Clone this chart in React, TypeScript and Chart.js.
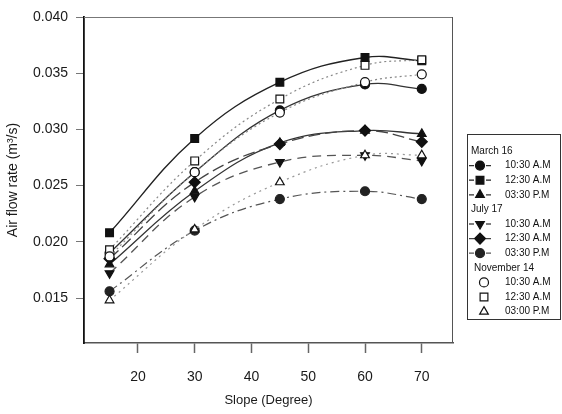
import React, { useEffect, useRef } from 'react';
import { Chart, registerables } from 'chart.js';
import { drawPoint } from 'chart.js/helpers';

Chart.register(...registerables);

// ---- Data ----
const slopes = [15, 30, 45, 60, 70];
const mar16_1030 = [0.0190, 0.0262, 0.0317, 0.0340, 0.0336];
const mar16_1230 = [0.0208, 0.0292, 0.0342, 0.0364, 0.0361];
const mar16_0330 = [0.0180, 0.0245, 0.0288, 0.0299, 0.0296];
const jul17_1030 = [0.0172, 0.0240, 0.0271, 0.0277, 0.0272];
const jul17_1230 = [0.0185, 0.0253, 0.0287, 0.0299, 0.0289];
const jul17_0330 = [0.0156, 0.0210, 0.0238, 0.0245, 0.0238];
const nov14_1030 = [0.0187, 0.0262, 0.0315, 0.0342, 0.0349];
const nov14_1230 = [0.0193, 0.0272, 0.0327, 0.0357, 0.0362];
const nov14_0300 = [0.0148, 0.0211, 0.0253, 0.0277, 0.0277];

const xTicks = [20, 30, 40, 50, 60, 70];
const yTicks = [0.015, 0.020, 0.025, 0.030, 0.035, 0.040];

const groupHeaders = ['March 16', 'July 17', 'November 14'];
const timeLabels = [
  ['10:30 A.M', '12:30 A.M', '03:30 P.M'],
  ['10:30 A.M', '12:30 A.M', '03:30 P.M'],
  ['10:30 A.M', '12:30 A.M', '03:00 P.M'],
];

const FONT = "'Liberation Sans', Arial, sans-serif";

type S = {
  data: number[];
  group: number;
  idx: number;
  style: string;
  rotation?: number;
  fill: string;
  stroke: string;
  lineColor: string;
  dash: number[];
  lw: number;
  radius: number;
  order: number;
};

const series: S[] = [
  { data: mar16_1030, group: 0, idx: 0, style: 'circle', fill: '#111', stroke: '#111', lineColor: '#333', dash: [], lw: 1.3, radius: 4.5, order: 2 },
  { data: mar16_1230, group: 0, idx: 1, style: 'rect', fill: '#111', stroke: '#111', lineColor: '#222', dash: [], lw: 1.4, radius: 5.5, order: 2 },
  { data: mar16_0330, group: 0, idx: 2, style: 'triangle', fill: '#111', stroke: '#111', lineColor: '#333', dash: [], lw: 1.3, radius: 5, order: 2 },
  { data: jul17_1030, group: 1, idx: 0, style: 'triangle', rotation: 180, fill: '#111', stroke: '#111', lineColor: '#555', dash: [9, 6], lw: 1.3, radius: 5, order: 1 },
  { data: jul17_1230, group: 1, idx: 1, style: 'rectRot', fill: '#111', stroke: '#111', lineColor: '#444', dash: [12, 5], lw: 1.3, radius: 5.5, order: 1 },
  { data: jul17_0330, group: 1, idx: 2, style: 'circle', fill: '#222', stroke: '#222', lineColor: '#555', dash: [9, 4, 2, 4], lw: 1.2, radius: 4.5, order: 1 },
  { data: nov14_1030, group: 2, idx: 0, style: 'circle', fill: '#fff', stroke: '#111', lineColor: '#888', dash: [2, 3], lw: 1.2, radius: 4.5, order: 0 },
  { data: nov14_1230, group: 2, idx: 1, style: 'rect', fill: '#fff', stroke: '#111', lineColor: '#888', dash: [2, 3], lw: 1.2, radius: 5.5, order: 0 },
  { data: nov14_0300, group: 2, idx: 2, style: 'triangle', fill: '#fff', stroke: '#111', lineColor: '#999', dash: [2, 4], lw: 1.2, radius: 5, order: 0 },
];

const framePlugin = {
  id: 'frame',
  afterDraw(chart: any) {
    const { ctx, chartArea: a } = chart;
    ctx.save();
    ctx.strokeStyle = '#777';
    ctx.lineWidth = 1;
    ctx.beginPath();
    ctx.moveTo(a.left, a.top + 0.5);
    ctx.lineTo(a.right, a.top + 0.5);
    ctx.stroke();
    ctx.strokeStyle = '#555';
    ctx.beginPath();
    ctx.moveTo(a.right - 0.5, a.top);
    ctx.lineTo(a.right - 0.5, a.bottom);
    ctx.stroke();
    ctx.restore();
  },
};

const legendPlugin = {
  id: 'customLegend',
  afterDraw(chart: any) {
    const ctx = chart.ctx;
    const bx = 467, by = 134, bw = 93, bh = 185;
    ctx.save();
    ctx.strokeStyle = '#333';
    ctx.lineWidth = 1;
    ctx.strokeRect(bx + 0.5, by + 0.5, bw, bh);
    ctx.font = `10px ${FONT}`;
    ctx.fillStyle = '#111';
    ctx.textBaseline = 'middle';
    let row = 0;
    const y0 = 151;
    const step = 14.6;
    for (let g = 0; g < 3; g++) {
      const hy = y0 + step * row;
      ctx.fillStyle = '#111';
      ctx.textAlign = 'left';
      ctx.fillText(groupHeaders[g], g === 2 ? 474 : 471, hy);
      row++;
      for (let k = 0; k < 3; k++) {
        const s = series.find((q) => q.group === g && q.idx === k)!;
        const y = y0 + step * row;
        if (g < 2) {
          ctx.save();
          ctx.strokeStyle = s.lineColor;
          ctx.lineWidth = 1.3;
          ctx.beginPath();
          ctx.moveTo(469, y);
          ctx.lineTo(474, y);
          ctx.moveTo(486, y);
          ctx.lineTo(491, y);
          ctx.stroke();
          ctx.restore();
        }
        ctx.save();
        ctx.fillStyle = s.fill;
        ctx.strokeStyle = s.stroke;
        ctx.lineWidth = 1.2;
        ctx.setLineDash([]);
        drawPoint(ctx, { pointStyle: s.style, radius: s.radius, rotation: s.rotation || 0, borderWidth: 1.2 } as any, g < 2 ? 480 : 484, y);
        ctx.restore();
        ctx.fillStyle = '#111';
        ctx.fillText(timeLabels[g][k], 505, y);
        row++;
      }
    }
    ctx.restore();
  },
};

export default function App() {
  const ref = useRef<HTMLCanvasElement>(null);
  useEffect(() => {
    if (!ref.current) return;
    const datasets = series.map((s) => ({
      label: `${groupHeaders[s.group]} ${timeLabels[s.group][s.idx]}`,
      data: slopes.map((x, i) => ({ x, y: s.data[i] })),
      borderColor: s.lineColor,
      borderWidth: s.lw,
      borderDash: s.dash,
      tension: 0.4,
      pointStyle: s.style,
      pointRotation: s.rotation || 0,
      pointRadius: s.radius,
      pointBackgroundColor: s.fill,
      pointBorderColor: s.stroke,
      pointBorderWidth: 1.2,
      order: s.order,
      fill: false,
    }));
    const chart = new Chart(ref.current, {
      type: 'line',
      data: { datasets },
      options: {
        animation: false,
        responsive: true,
        maintainAspectRatio: false,
        layout: { padding: { top: 17, right: 109, left: 0, bottom: 0 } },
        plugins: { legend: { display: false }, tooltip: { enabled: false } },
        scales: {
          x: {
            type: 'linear',
            min: 10.5,
            max: 75.5,
            afterBuildTicks: (scale: any) => {
              scale.ticks = xTicks.map((v) => ({ value: v }));
            },
            afterFit: (scale: any) => {
              scale.height = 71;
            },
            grid: { display: true, drawOnChartArea: false, drawTicks: true, tickLength: 10, tickColor: '#666', tickWidth: 1.5 },
            border: { display: true, color: '#555', width: 1.5 },
            ticks: { color: '#1a1a1a', font: { family: FONT, size: 14 }, padding: 16, maxRotation: 0 },
            title: { display: true, text: 'Slope (Degree)', color: '#1a1a1a', font: { family: FONT, size: 13 }, padding: { top: 0, bottom: 6 } },
          },
          y: {
            type: 'linear',
            min: 0.011,
            max: 0.040,
            afterBuildTicks: (scale: any) => {
              scale.ticks = yTicks.map((v) => ({ value: v }));
            },
            afterFit: (scale: any) => {
              scale.width = 84;
            },
            grid: { display: true, drawOnChartArea: false, drawTicks: true, tickLength: 8, tickColor: '#777', tickWidth: 1 },
            border: { display: true, color: '#111', width: 1.8 },
            ticks: {
              color: '#1a1a1a',
              font: { family: FONT, size: 14 },
              padding: 8,
              callback: (v: any) => Number(v).toFixed(3),
            },
            title: { display: true, text: 'Air flow rate (m³/s)', color: '#1a1a1a', font: { family: FONT, size: 14 }, padding: { top: 5, bottom: 0 } },
          },
        },
      },
      plugins: [framePlugin, legendPlugin],
    });
    return () => chart.destroy();
  }, []);
  return (
    <div style={{ position: 'absolute', left: 0, top: 0, width: 562, height: 414 }}>
      <canvas ref={ref} />
    </div>
  );
}
